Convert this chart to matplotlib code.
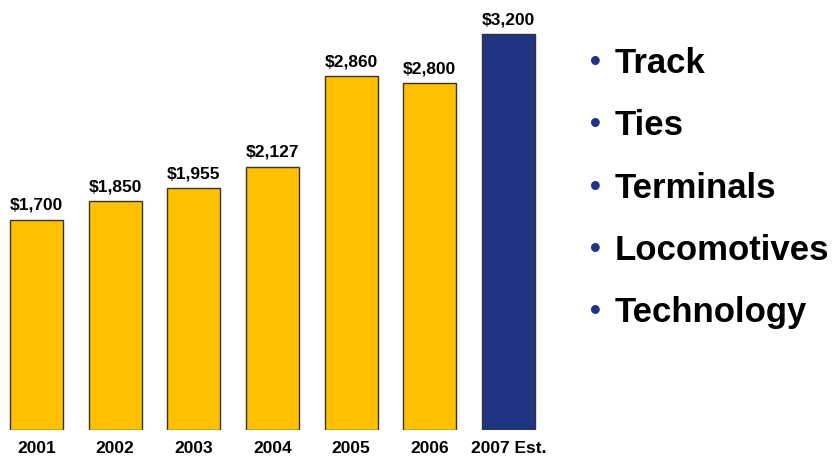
import matplotlib
matplotlib.use("Agg")
import matplotlib.pyplot as plt

plt.rcParams['font.family'] = ['Liberation Sans', 'DejaVu Sans']

years = ["2001", "2002", "2003", "2004", "2005", "2006", "2007 Est."]
spend = [1700, 1850, 1955, 2127, 2860, 2800, 3200]
labels = ["$1,700", "$1,850", "$1,955", "$2,127", "$2,860", "$2,800", "$3,200"]
items = ["Track", "Ties", "Terminals", "Locomotives", "Technology"]

W, H = 833, 461
fig = plt.figure(figsize=(W / 100, H / 100), dpi=100)

# axes placed in pixel units
step = 78.67
left_px = 36.5 - 0.45 * step
ax = fig.add_axes([left_px / W, (H - 430) / H, 6.9 * step / W, 420.75 / H])
ax.set_xlim(-0.45, 6.45)
ax.set_ylim(0, 3400)
ax.axis("off")

cols = ["#FFC000"] * 6 + ["#1F3581"]
x = list(range(len(years)))
ax.bar(x, spend, width=0.675, color=cols, edgecolor="#333333", linewidth=1.0)

for i, (v, lab) in enumerate(zip(spend, labels)):
    ax.annotate(lab, (i, v), xytext=(0, 5), textcoords="offset points",
                ha="center", va="bottom", fontsize=12.5, fontweight="bold")
    ax.annotate(years[i], (i, 0), xytext=(0, -13.5), textcoords="offset points",
                ha="center", va="center", fontsize=12.5, fontweight="bold")

for k, it in enumerate(items):
    yb = 1 - (73 + 62.3 * k) / H
    fig.text(590 / W, yb + 2 / H, "\u2022", color="#1F3581", fontsize=22,
             fontweight="bold", va="baseline", ha="left")
    fig.text(615 / W, yb, it, color="black", fontsize=25,
             fontweight="bold", va="baseline", ha="left")

fig.savefig("out.png", dpi=100)
